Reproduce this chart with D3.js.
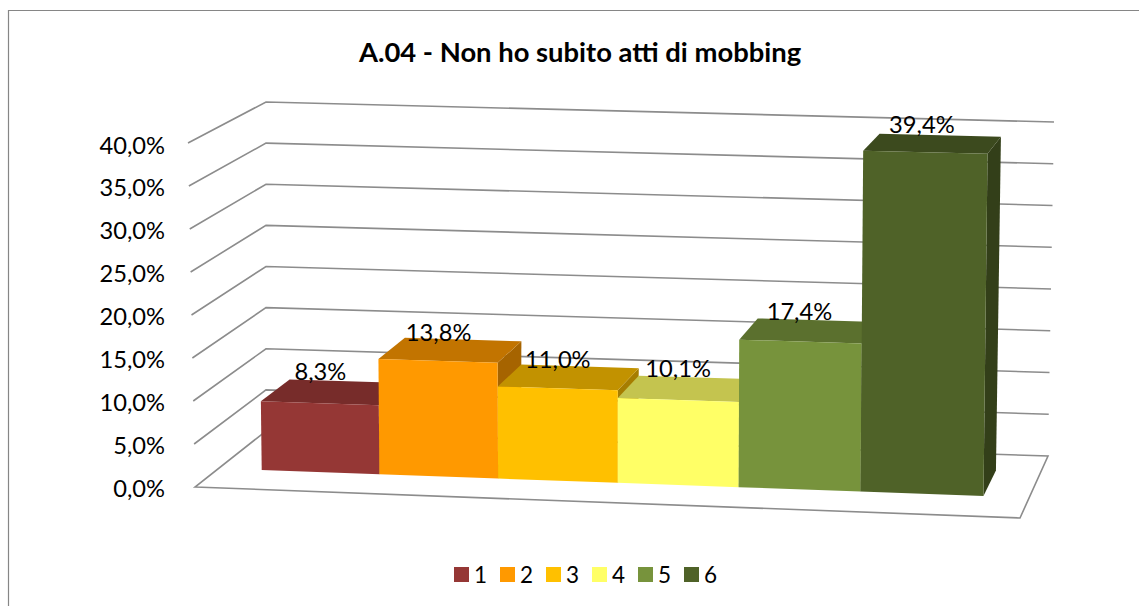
<!DOCTYPE html>
<html>
<head>
<meta charset="utf-8">
<script src="https://cdn.jsdelivr.net/npm/d3@7"></script>
<style>
  html, body { margin: 0; padding: 0; background: #fff; }
  svg { display: block; }
  text { font-family: Lato, "Open Sans", sans-serif; fill: #000; }
</style>
</head>
<body>
<script>
var categories = ["1", "2", "3", "4", "5", "6"];
var values = [8.3, 13.8, 11.0, 10.1, 17.4, 39.4];
var yTicks = [0, 5, 10, 15, 20, 25, 30, 35, 40];
var frontColors = ["#953735", "#FF9900", "#FFC000", "#FFFF66", "#77933C", "#4F6228"];
var topColors = ["#772C2A", "#C27400", "#C29200", "#C4C44F", "#5B702E", "#3C4A1E"];
var sideColors = ["#652523", "#A66400", "#A67D00", "#A6A642", "#4D5F27", "#333F19"];
var chartTitle = "A.04 - Non ho subito atti di mobbing";

var width = 1139, height = 606;

var svg = d3.select("body").append("svg")
  .attr("width", width)
  .attr("height", height);

// box corners in pixels: f = front, b = back, l/r = left/right, 0/t = value 0 / value max
var fl0 = [195, 487], fr0 = [1020, 518], bl0 = [266, 431], br0 = [1048, 456];
var flt = [188, 143], frt = [1024, 163], blt = [266, 102], brt = [1054, 122];

var x = d3.scaleBand().domain(categories).range([0, 1]).paddingInner(0).paddingOuter(0.37);
var y = d3.scaleLinear().domain([0, 40]).range([0, 1]);
var depthFront = 0.33, depthBack = 0.74;

// hand placed offsets of the value labels
var labelDy = [0, 2, 3, 1, 1, -1];

function mix(a, b, t) {
  return [a[0] + (b[0] - a[0]) * t, a[1] + (b[1] - a[1]) * t];
}

// u along categories, v height, w depth, all 0..1
function project(u, v, w) {
  var p = u / (1 + 0.03 * (1 - u)); // slight perspective along the x axis
  var a = mix(mix(fl0, fr0, p), mix(bl0, br0, p), w);
  var b = mix(mix(flt, frt, p), mix(blt, brt, p), w);
  return mix(a, b, v);
}

function poly(points) {
  return d3.line()(points) + "Z";
}

// bars foreshorten a little at low values
function barHeight(value) {
  var v = y(value);
  return v / (1 + 0.03 * (1 - v));
}

// chart border, open on the right
svg.append("path")
  .attr("d", d3.line()([[8.5, height], [8.5, 10.5], [width, 10.5]]))
  .attr("fill", "none")
  .attr("stroke", "#868686")
  .attr("stroke-width", 1.2);

// floor
svg.append("path")
  .attr("d", poly([project(0, 0, 0), project(1, 0, 0), project(1, 0, 1), project(0, 0, 1)]))
  .attr("fill", "#fff")
  .attr("stroke", "#8c8c8c")
  .attr("stroke-width", 1.6);

// gridlines on the left and back walls
svg.append("g").selectAll("path")
  .data(yTicks.filter(function (d) { return d > 0; }))
  .enter()
  .append("path")
  .attr("d", function (d) {
    return d3.line()([project(0, y(d), 0), project(0, y(d), 1), project(1, y(d), 1)]);
  })
  .attr("fill", "none")
  .attr("stroke", "#8c8c8c")
  .attr("stroke-width", 1.6);

// axis labels
var itFormat = d3.formatLocale({ decimal: ",", thousands: ".", grouping: [3], currency: ["", "€"] }).format(".1f");

var yAxisScale = d3.scaleLinear().domain([0, 40]).range([488.5, 145.5]);
var yAxis = svg.append("g")
  .attr("transform", "translate(171,0)")
  .call(d3.axisLeft(yAxisScale).tickValues(yTicks).tickSize(0).tickPadding(6)
    .tickFormat(function (d) { return itFormat(d) + "%"; }));
yAxis.select(".domain").remove();
yAxis.selectAll("text")
  .style("font-family", "Lato, sans-serif")
  .style("font-size", "23.7px");

// bars, painted left to right so each one covers the side of the previous
var bars = svg.append("g").selectAll("g")
  .data(categories)
  .enter()
  .append("g");

function corners(c, i) {
  return { u0: x(c), u1: x(c) + x.bandwidth(), v: barHeight(values[i]) };
}

bars.append("path")
  .attr("fill", function (c, i) { return sideColors[i]; })
  .attr("d", function (c, i) {
    var b = corners(c, i);
    return poly([project(b.u1, 0, depthFront), project(b.u1, 0, depthBack), project(b.u1, b.v, depthBack), project(b.u1, b.v, depthFront)]);
  });

bars.append("path")
  .attr("fill", function (c, i) { return topColors[i]; })
  .attr("d", function (c, i) {
    var b = corners(c, i);
    return poly([project(b.u0, b.v, depthFront), project(b.u1, b.v, depthFront), project(b.u1, b.v, depthBack), project(b.u0, b.v, depthBack)]);
  });

bars.append("path")
  .attr("fill", function (c, i) { return frontColors[i]; })
  .attr("d", function (c, i) {
    var b = corners(c, i);
    return poly([project(b.u0, 0, depthFront), project(b.u1, 0, depthFront), project(b.u1, b.v, depthFront), project(b.u0, b.v, depthFront)]);
  });

// value labels
svg.append("g").selectAll("text")
  .data(categories)
  .enter()
  .append("text")
  .attr("text-anchor", "middle")
  .attr("font-size", 23.7)
  .attr("x", function (c) { return project(x(c) + x.bandwidth() / 2, 0, depthFront)[0]; })
  .attr("y", function (c, i) { return project(x(c) + x.bandwidth() / 2, barHeight(values[i]), depthBack)[1] - 1 + labelDy[i]; })
  .text(function (c, i) { return itFormat(values[i]) + "%"; });

// title
svg.append("text")
  .attr("x", 580)
  .attr("y", 62)
  .attr("text-anchor", "middle")
  .attr("font-size", 27.4)
  .attr("font-weight", 700)
  .text(chartTitle);

// legend
var legendX = d3.scalePoint().domain(categories).range([454, 684]);
var legend = svg.append("g").selectAll("g")
  .data(categories)
  .enter()
  .append("g")
  .attr("transform", function (c) { return "translate(" + legendX(c) + ",567)"; });

legend.append("rect")
  .attr("width", 15)
  .attr("height", 15)
  .attr("fill", function (c, i) { return frontColors[i]; });

legend.append("text")
  .attr("x", 20)
  .attr("y", 15.5)
  .attr("font-size", 22.5)
  .text(function (c) { return c; });
</script>
</body>
</html>
